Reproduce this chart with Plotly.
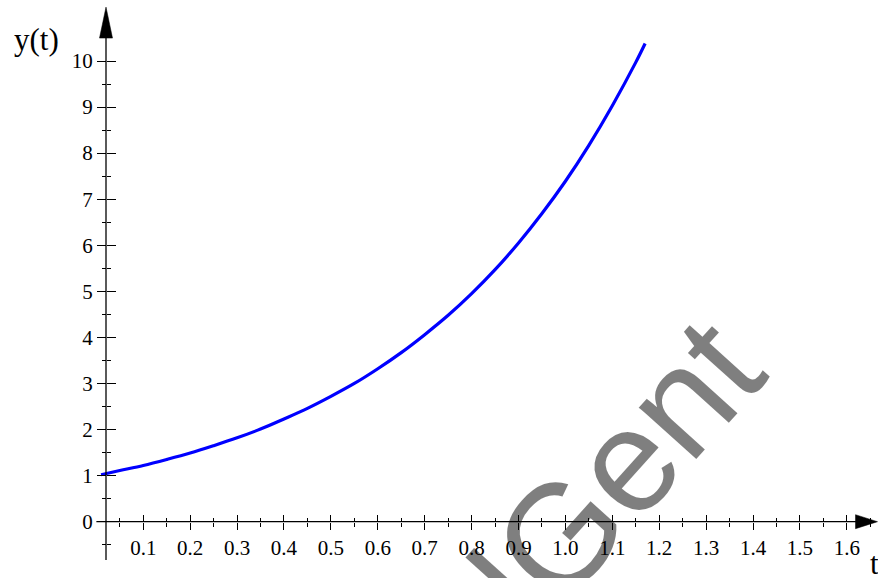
import plotly.graph_objects as go

# Sampled solution curve y(t)
t_vals = [0.01, 0.05, 0.10, 0.15, 0.20, 0.25, 0.30, 0.35, 0.40, 0.45, 0.50, 0.55,
          0.60, 0.65, 0.70, 0.75, 0.80, 0.85, 0.90, 0.95, 1.00, 1.05, 1.10, 1.15, 1.17]
y_vals = [1.02, 1.11, 1.22, 1.35, 1.49, 1.65, 1.82, 2.01, 2.23, 2.46, 2.72, 3.00,
          3.32, 3.67, 4.06, 4.48, 4.95, 5.47, 6.05, 6.69, 7.39, 8.17, 9.03, 9.97, 10.38]

# Axis ticks
x_major = [0.1, 0.2, 0.3, 0.4, 0.5, 0.6, 0.7, 0.8, 0.9, 1.0, 1.1, 1.2, 1.3, 1.4, 1.5, 1.6]
x_labels = ["0.1", "0.2", "0.3", "0.4", "0.5", "0.6", "0.7", "0.8", "0.9", "1.0",
            "1.1", "1.2", "1.3", "1.4", "1.5", "1.6"]
x_minor = [0.05, 0.15, 0.25, 0.35, 0.45, 0.55, 0.65, 0.75, 0.85, 0.95, 1.05, 1.15,
           1.25, 1.35, 1.45, 1.55, 1.65]
y_major = [0, 1, 2, 3, 4, 5, 6, 7, 8, 9, 10]
y_labels = ["0", "1", "2", "3", "4", "5", "6", "7", "8", "9", "10"]
y_minor = [-0.5, 0.5, 1.5, 2.5, 3.5, 4.5, 5.5, 6.5, 7.5, 8.5, 9.5]

# View window and axis placement
X_RANGE = [-0.2055, 1.6665]
Y_RANGE = [-1.222, 11.324]
Y_AXIS_AT = 0.0205       # t where the vertical axis crosses
X_AXIS_AT = 0.0          # y where the horizontal axis crosses
X_LINE_END = 1.64
Y_LINE = [-0.83, 10.9]

W, H = 878, 578
SERIF = "Liberation Serif, Times New Roman, serif"

xpos = (X_AXIS_AT - Y_RANGE[0]) / (Y_RANGE[1] - Y_RANGE[0])
ypos = (Y_AXIS_AT - X_RANGE[0]) / (X_RANGE[1] - X_RANGE[0])

fig = go.Figure()

fig.add_trace(go.Scatter(
    x=t_vals, y=y_vals, mode="lines",
    line=dict(color="#0000ff", width=3.2, shape="spline"),
    hoverinfo="skip", showlegend=False,
))
# keeps the mirrored tick axes attached
fig.add_trace(go.Scatter(
    x=t_vals[:2], y=y_vals[:2], mode="lines", xaxis="x2", yaxis="y2",
    line=dict(color="rgba(0,0,0,0)"), hoverinfo="skip", showlegend=False,
))

tick_common = dict(showgrid=False, zeroline=False, showline=False,
                   tickcolor="black", tickwidth=1.3, tickmode="array")
tick_font = dict(family=SERIF, size=21, color="black")

fig.update_layout(
    width=W, height=H,
    margin=dict(l=0, r=0, t=0, b=0),
    paper_bgcolor="white", plot_bgcolor="white",
    showlegend=False,
    xaxis=dict(range=X_RANGE, anchor="free", position=xpos, domain=[0, 1],
               tickvals=x_major, ticktext=x_labels, ticks="outside", ticklen=7,
               tickfont=tick_font,
               minor=dict(tickmode="array", tickvals=x_minor, ticks="outside",
                          ticklen=4, tickwidth=1.3, tickcolor="black", showgrid=False),
               **tick_common),
    xaxis2=dict(range=X_RANGE, anchor="free", position=xpos, overlaying="x",
                tickvals=x_major, ticks="inside", ticklen=7, showticklabels=False,
                minor=dict(tickmode="array", tickvals=x_minor, ticks="inside",
                           ticklen=4, tickwidth=1.3, tickcolor="black", showgrid=False),
                **tick_common),
    yaxis=dict(range=Y_RANGE, anchor="free", position=ypos, domain=[0, 1],
               tickvals=y_major, ticktext=y_labels, ticks="outside", ticklen=9,
               tickfont=tick_font,
               minor=dict(tickmode="array", tickvals=y_minor, ticks="outside",
                          ticklen=4, tickwidth=1.3, tickcolor="black", showgrid=False),
               **tick_common),
    yaxis2=dict(range=Y_RANGE, anchor="free", position=ypos, overlaying="y",
                tickvals=y_major, ticks="inside", ticklen=9, showticklabels=False,
                minor=dict(tickmode="array", tickvals=y_minor, ticks="inside",
                           ticklen=4, tickwidth=1.3, tickcolor="black", showgrid=False),
                **tick_common),
)

# Axis lines
fig.add_shape(type="line", xref="x", yref="y", x0=0, x1=X_LINE_END,
              y0=X_AXIS_AT, y1=X_AXIS_AT, line=dict(color="black", width=1.3))
fig.add_shape(type="line", xref="x", yref="y", x0=Y_AXIS_AT, x1=Y_AXIS_AT,
              y0=Y_LINE[0], y1=Y_LINE[1], line=dict(color="black", width=1.3))

# Arrow heads (pixel-sized, anchored at the tips)
fig.add_shape(type="path", xref="x", yref="y", xsizemode="pixel", ysizemode="pixel",
              xanchor=X_RANGE[1] - 0.001, yanchor=X_AXIS_AT,
              path="M -22,-7 L 0,0 L -22,7 Z",
              fillcolor="black", line=dict(color="black", width=0.5))
fig.add_shape(type="path", xref="x", yref="y", xsizemode="pixel", ysizemode="pixel",
              xanchor=Y_AXIS_AT, yanchor=11.17,
              path="M -6.5,-31 L 0,0 L 6.5,-31 Z",
              fillcolor="black", line=dict(color="black", width=0.5))

# Axis titles
fig.add_annotation(text="y(t)", xref="paper", yref="paper", x=36 / W, y=1 - 40 / H,
                   xanchor="center", yanchor="middle", showarrow=False,
                   font=dict(family=SERIF, size=31, color="black"))
fig.add_annotation(text="t", xref="paper", yref="paper", x=874 / W, y=1 - 563 / H,
                   xanchor="center", yanchor="middle", showarrow=False,
                   font=dict(family=SERIF, size=31, color="black"))

# Watermark
fig.add_annotation(text="lGent", xref="paper", yref="paper", x=616 / W, y=1 - 472 / H,
                   xanchor="center", yanchor="middle", showarrow=False, textangle=-48,
                   font=dict(family="Liberation Sans, Arial, sans-serif", size=146,
                             color="rgba(0,0,0,0.5)"))

fig.write_html("out.html")
